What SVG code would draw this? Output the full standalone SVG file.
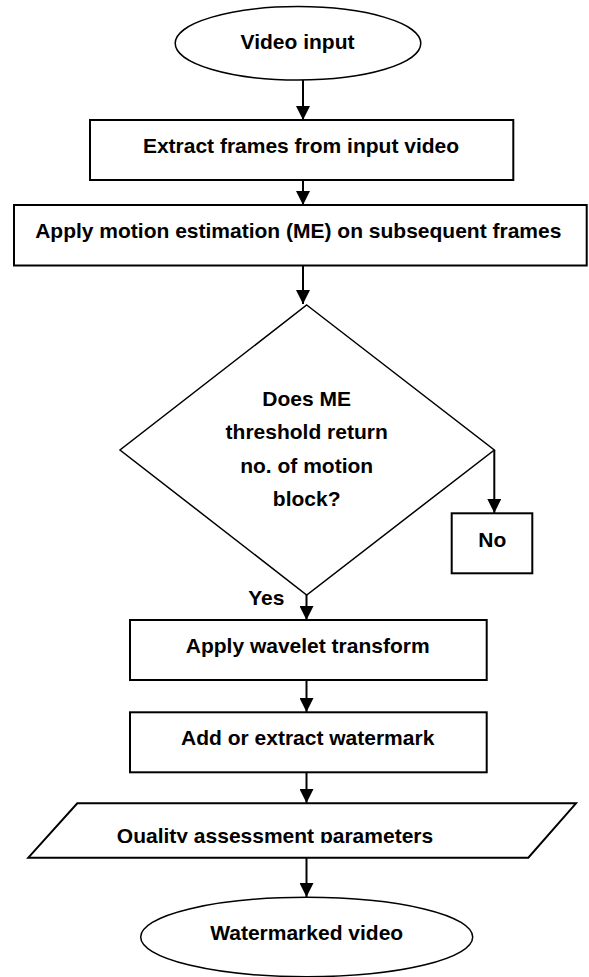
<svg xmlns="http://www.w3.org/2000/svg" width="589" height="977" viewBox="0 0 589 977">
<style>
.shape{fill:#fff;stroke:#000;stroke-width:2}
.thin{fill:#fff;stroke:#000;stroke-width:1.5}
.t{font-family:"Liberation Sans",Arial,sans-serif;font-weight:bold;font-size:21px;fill:#000;text-anchor:middle}
.c{stroke:#000;stroke-width:2;fill:none;marker-end:url(#ah)}
</style>
<defs>
<marker id="ah" markerUnits="userSpaceOnUse" markerWidth="14" markerHeight="14" refX="14" refY="7" orient="auto">
<path d="M0,0 L14,7 L0,14 z" fill="#000"/>
</marker>
<clipPath id="qclip"><rect x="0" y="800" width="589" height="43"/></clipPath>
</defs>
<rect width="589" height="977" fill="#fff"/>
<g id="connectors">
<line class="c" x1="303" y1="80" x2="303" y2="120"/>
<line class="c" x1="303" y1="180" x2="303" y2="205"/>
<line class="c" x1="303" y1="265.5" x2="303" y2="304"/>
<line class="c" x1="494.3" y1="450" x2="494.3" y2="513"/>
<line class="c" x1="306.5" y1="595" x2="306.5" y2="620"/>
<line class="c" x1="306.5" y1="680" x2="306.5" y2="712"/>
<line class="c" x1="306.5" y1="772" x2="306.5" y2="803"/>
<line class="c" x1="306.5" y1="858" x2="306.5" y2="897"/>
</g>
<g id="start">
<ellipse class="thin" cx="298" cy="43.3" rx="122.8" ry="36.7"/>
<text class="t" x="297.5" y="49.3">Video input</text>
</g>
<g id="extract">
<rect class="shape" x="90" y="120" width="423.3" height="60"/>
<text class="t" x="301" y="153.3">Extract frames from input video</text>
</g>
<g id="motion">
<rect class="shape" x="14" y="205" width="572.7" height="60.5"/>
<text class="t" x="298.3" y="238.3">Apply motion estimation (ME) on subsequent frames</text>
</g>
<g id="decision">
<polygon class="thin" points="306.7,305 494.3,450 306.7,595 120,450"/>
<text class="t" x="306.7" y="406">Does ME</text>
<text class="t" x="306.7" y="439.3">threshold return</text>
<text class="t" x="306.7" y="472.7">no. of motion</text>
<text class="t" x="306.7" y="506">block?</text>
</g>
<g id="no">
<rect class="shape" x="451.7" y="513.3" width="80.6" height="60"/>
<text class="t" x="492.3" y="546.7">No</text>
</g>
<g id="yes-label">
<text class="t" x="266.3" y="605">Yes</text>
</g>
<g id="wavelet">
<rect class="shape" x="130" y="620" width="356.7" height="60"/>
<text class="t" x="307.7" y="653.3">Apply wavelet transform</text>
</g>
<g id="watermark">
<rect class="shape" x="130" y="712.3" width="356.7" height="60"/>
<text class="t" x="307.7" y="745">Add or extract watermark</text>
</g>
<g id="quality">
<polygon class="shape" points="77.3,803.3 576,803.3 528.3,857.7 28.3,857.7"/>
<text class="t" x="275" y="842.5" clip-path="url(#qclip)">Quality assessment parameters</text>
</g>
<g id="end">
<ellipse class="thin" cx="306.7" cy="937" rx="166" ry="39.7"/>
<text class="t" x="306.7" y="940">Watermarked video</text>
</g>
</svg>
